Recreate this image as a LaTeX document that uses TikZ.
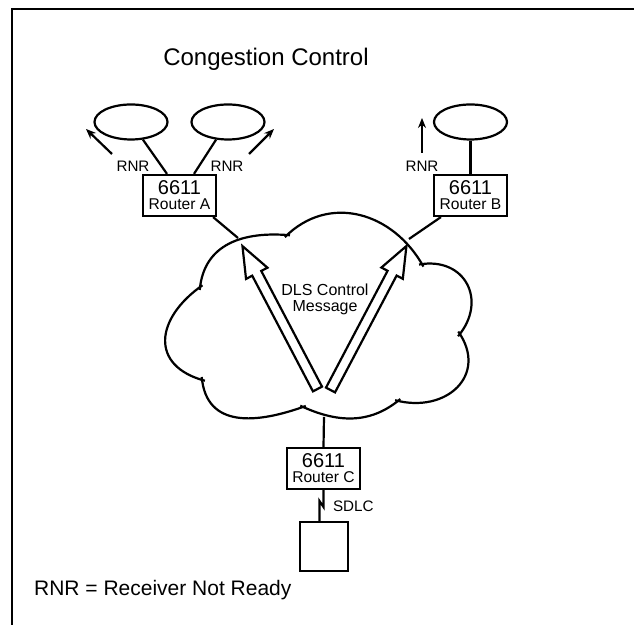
\documentclass[tikz,border=0pt]{standalone}
\usepackage{fontspec}
\setmainfont{Liberation Sans}
\usetikzlibrary{positioning, shapes.geometric, shapes.arrows, arrows.meta}
\tikzset{
  % Set arrowhead
  >={Stealth[length=5pt, width=4pt]},
  % LAN ring
  lan/.style={draw, shape=ellipse, minimum width=36.5pt, minimum
    height=17.5pt, inner sep=0pt},
  % Router box
  router/.style={draw, fill=white, shape=rectangle, minimum width=36.5pt,
    minimum height=20.5pt, inner sep=0pt, align=center,
    font=\fontsize{10}{9}\selectfont},
  % End station
  host/.style={draw, shape=rectangle, minimum width=24pt, minimum
    height=24.5pt, inner sep=0pt},
  % Small labels
  lbl/.style={inner sep=0pt, font=\fontsize{7.6}{8}\selectfont},
  % Cloud lobe, overshooting a little at its ends
  lobe/.style={shorten <=-1.5pt, shorten >=-1.5pt},
  % Hollow message arrow
  msg/.style={draw, fill=white, single arrow, inner xsep=0pt, inner
    ysep=2pt, single arrow head extend=3.5pt, single arrow tip angle=43,
    minimum width=11pt, anchor=tail},
}
\newcommand{\routertext}[1]{6611\\[-1.5pt]{\fontsize{7.8}{8}\selectfont Router #1}}

\begin{document}
\begin{tikzpicture}[x=0.5pt, y=0.5pt, line width=1.1pt]
  \useasboundingbox (0,0) rectangle (634,625);
  % frame
  \draw (634,616) -- (12,616) -- (12,0);

  \node[font=\fontsize{12}{14}\selectfont, anchor=base] (title) at (266,559)
  {Congestion Control};

  % LAN rings
  \node[lan] (a1) at (131,503) {};
  \node[lan] (a2) at (228,503) {};
  \node[lan] (b1) at (470.5,503) {};

  % Routers
  \node[router] (ra) at (179.5,429.5) {\routertext{A}};
  \node[router] (rb) at (470.5,429.5) {\routertext{B}};
  \node[router] (rc) at (323.5,156.5) {\routertext{C}};
  \node[host] (h) at (324,78.5) {};

  \draw (a1.-56) -- ([xshift=-6.25pt]ra.north);
  \draw (a2.-124) -- ([xshift=7.25pt]ra.north);
  \draw (b1.south) -- (rb.north);

  % RNR arrows
  \coordinate (f1) at (112,471); \coordinate (t1) at (86,496);
  \coordinate (f2) at (249,471); \coordinate (t2) at (274,496);
  \coordinate (f3) at (422,472); \coordinate (t3) at (422,507);
  \draw[->] (f1) -- (t1);
  \draw[->] (f2) -- (t2);
  \draw[->] (f3) -- (t3);
  \node[lbl, anchor=base] (rnr1) at (133,453) {RNR};
  \node[lbl, anchor=base] (rnr2) at (227,453) {RNR};
  \node[lbl, anchor=base] (rnr3) at (422,453) {RNR};

  % Cloud
  \coordinate (p1) at (200,338);
  \coordinate (p2) at (287,390);
  \coordinate (p3) at (422,361);
  \coordinate (p4) at (460,291);
  \coordinate (p5) at (398,224);
  \coordinate (p6) at (303,218);
  \coordinate (p7) at (202,245);
  \draw[lobe] (p7) to[out=165, in=215, looseness=1.5] (p1);
  \draw[lobe] (p1) to[out=85, in=175, looseness=1.1] (p2);
  \draw[lobe] (p2) to[out=45, in=119, looseness=1.1] (p3);
  \draw[lobe] (p3) to[out=10, in=50, looseness=1.4] (p4);
  \draw[lobe] (p4) to[out=-55, in=-15, looseness=1.4] (p5);
  \draw[lobe] (p5) to[out=-140, in=-25] (p6);
  \draw[lobe] (p6) to[out=-160, in=-85, looseness=1.2] (p7);
  \coordinate (ca) at (238,387);
  \coordinate (cb) at (409,386);
  \coordinate (cc) at (324,208);

  \draw ([xshift=-2pt]ra.south east) -- (ca);
  \draw ([xshift=4pt]rb.south west) -- (cb);
  \draw (cc) -- (rc.north);

  % DLS control messages
  \node[msg, rotate=117.7, minimum height=80.7pt] (m1) at (318,235) {};
  \node[msg, rotate=62.2, minimum height=81.4pt] (m2) at (330,234) {};
  \node[font=\fontsize{8}{8}\selectfont, align=center] (dls) at (325,326)
  {DLS Control\\Message};

  % SDLC link
  \coordinate (z1) at (323.5,118);
  \coordinate (z2) at (319.5,124);
  \draw (rc.south) -- (z1) -- (z2) -- (z2 |- h.north);
  \node[lbl, anchor=base west] (sdlc) at (332,113) {SDLC};

  \node[anchor=base west, inner sep=0pt, font=\fontsize{10.5}{12}\selectfont]
  (key) at (33,29) {RNR = Receiver Not Ready};
\end{tikzpicture}
\end{document}
